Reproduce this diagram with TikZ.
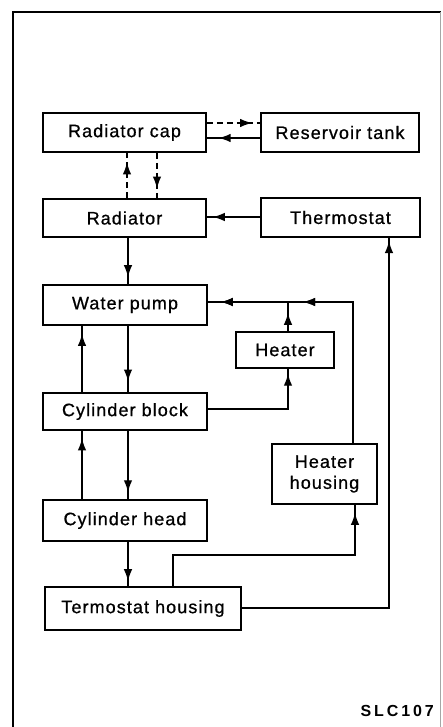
\documentclass[tikz,border=0pt]{standalone}
\usepackage{fontspec}
\setmainfont{Liberation Sans}[LetterSpace=6,FakeBold=0.8]
\newfontfamily\codefont{Liberation Sans}[LetterSpace=18]
\usetikzlibrary{decorations.markings,arrows.meta}
\begin{document}
\begin{tikzpicture}[x=1pt,y=-1pt,
  box/.style={draw,line width=1.8pt,rectangle,inner sep=0pt,font=\fontsize{18}{21}\selectfont,align=center},
  conn/.style={line width=1.4pt},
  arr/.style={postaction={decorate},decoration={markings,mark=at position #1 with {\arrow{Latex[length=12pt,width=8.5pt]}}}}
]
\useasboundingbox (0,0) rectangle (442,727);
% frame
\draw[line width=2pt] (441,12) -- (13,12) -- (13,727);
\draw[line width=0.8pt,black!35] (440,12) -- (440,727);

% boxes
\node[box,minimum width=163pt,minimum height=39pt] (cap) at (124.5,132.5) {Radiator cap};
\node[box,minimum width=158pt,minimum height=39pt] (tank) at (340,132.5) {Reservoir tank};
\node[box,minimum width=163pt,minimum height=38pt] (rad) at (124.5,218) {Radiator};
\node[box,minimum width=159pt,minimum height=39pt] (thermo) at (340.5,217.5) {Thermostat};
\node[box,minimum width=164pt,minimum height=40pt] (pump) at (125,305) {Water pump};
\node[box,minimum width=98pt,minimum height=36pt] (heater) at (285,350) {Heater};
\node[box,minimum width=164pt,minimum height=37pt] (block) at (125,411.5) {Cylinder block};
\node[box,minimum width=105pt,minimum height=60pt] (hhousing) at (324.5,474) {Heater\\housing};
\node[box,minimum width=164pt,minimum height=41pt] (head) at (125,520.5) {Cylinder head};
\node[box,minimum width=196pt,minimum height=43pt] (thhousing) at (143,608.5) {Termostat housing};

% connectors
\draw[conn,dashed,dash pattern=on 6pt off 4pt,arr=0.85] (cap.east |- 0,123) -- (tank.west |- 0,123);
\draw[conn,arr=0.78] (tank.west |- 0,138) -- (cap.east |- 0,138);
\draw[conn,dashed,dash pattern=on 6pt off 4pt,arr=0.79] (rad.north -| 127,0) -- (cap.south -| 127,0);
\draw[conn,dashed,dash pattern=on 6pt off 4pt,arr=0.79] (cap.south -| 157,0) -- (rad.north -| 157,0);
\draw[conn,arr=0.89] (thermo.west |- 0,217) -- (rad.east |- 0,217);
\draw[conn,arr=0.85] (rad.south -| 128,0) -- (pump.north -| 128,0);
\draw[conn,arr=0.84] (pump.south -| 128,0) -- (block.north -| 128,0);
\draw[conn,arr=0.88] (block.north -| 82,0) -- (pump.south -| 82,0);
\draw[conn,arr=0.96] (block.east |- 0,409) -| (heater.south -| 288,0);
\coordinate (jn) at (288,302);
\draw[conn,arr=0.63] (heater.north -| 288,0) -- (jn);
\draw[conn,arr=0.667,arr=0.955] (hhousing.north -| 353,0) |- (pump.east |- 0,302);
\draw[conn,arr=0.9] (block.south -| 128,0) -- (head.north -| 128,0);
\draw[conn,arr=0.89] (head.north -| 82,0) -- (block.south -| 82,0);
\draw[conn,arr=0.89] (head.south -| 128,0) -- (thhousing.north -| 128,0);
\draw[conn,arr=0.97] (thhousing.north -| 173,0) -- (173,555) -| (hhousing.south -| 355,0);
\draw[conn,arr=0.994] (thhousing.east |- 0,608) -| (thermo.south -| 389,0);

\node[font=\codefont\bfseries\fontsize{16}{19}\selectfont,anchor=east,inner sep=0pt] (code) at (434,711) {SLC107};
\end{tikzpicture}
\end{document}
